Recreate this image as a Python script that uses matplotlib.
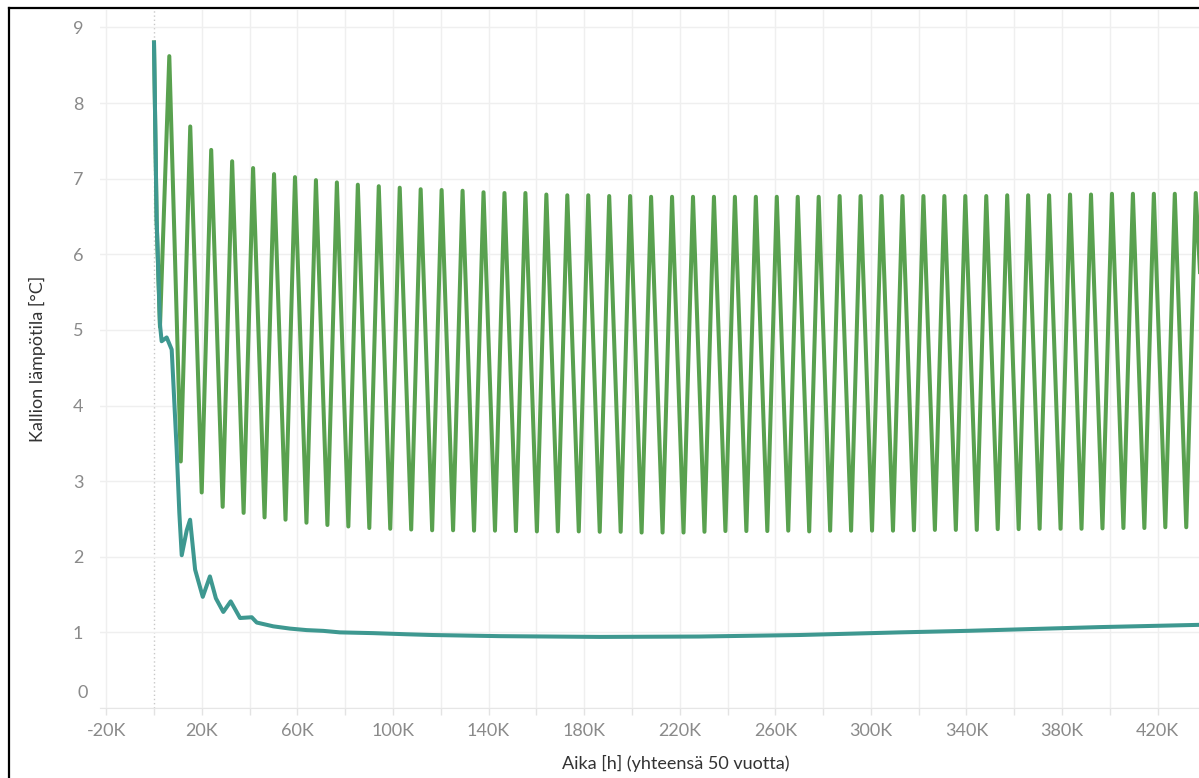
import numpy as np
import matplotlib
matplotlib.use("Agg")
import matplotlib.pyplot as plt
from matplotlib.ticker import FuncFormatter, MultipleLocator
from matplotlib.transforms import ScaledTranslation

plt.rcParams['font.family'] = ['Lato', 'DejaVu Sans']

# green series: start of run, then yearly peaks / troughs
green_start_h = [0, 1100, 2500]
green_start_t = [8.80, 6.45, 5.04]

peak_t = [8.62, 7.69, 7.38, 7.23, 7.14, 7.06, 7.02, 6.98, 6.95, 6.92,
          6.90, 6.88, 6.86, 6.85, 6.84, 6.82, 6.81, 6.81, 6.79, 6.78,
          6.78, 6.77, 6.77, 6.76, 6.76, 6.76, 6.76, 6.76, 6.76, 6.76,
          6.76, 6.76, 6.77, 6.77, 6.77, 6.77, 6.77, 6.77, 6.77, 6.77,
          6.78, 6.78, 6.78, 6.79, 6.79, 6.80, 6.80, 6.80, 6.80, 6.81]
trough_t = [3.26, 2.85, 2.66, 2.58, 2.52, 2.49, 2.45, 2.42, 2.40, 2.38,
            2.37, 2.36, 2.35, 2.35, 2.345, 2.345, 2.34, 2.335, 2.335, 2.335,
            2.33, 2.33, 2.32, 2.32, 2.32, 2.33, 2.34, 2.34, 2.34, 2.345,
            2.335, 2.345, 2.345, 2.345, 2.345, 2.35, 2.355, 2.355, 2.355, 2.365,
            2.365, 2.37, 2.37, 2.37, 2.375, 2.38, 2.38, 2.39, 2.39]
green_end_h = [438000]
green_end_t = [5.6]

# teal series (hours, temperature)
teal_h = [0, 1100, 2500, 3200, 5300, 7400, 8100, 9500, 10600, 11600,
          13700, 15100, 17200, 20400, 23400, 25900, 29000, 32100, 36000, 40900,
          43000, 49900, 56900, 63900, 70800, 77800, 91800, 105700, 116700, 145000,
          186600, 228000, 270000, 312000, 340000, 368000, 396000, 424000, 438000]
teal_t = [8.80, 6.45, 5.07, 4.85, 4.90, 4.74, 4.30, 3.41, 2.58, 2.02,
          2.35, 2.49, 1.83, 1.47, 1.74, 1.45, 1.27, 1.41, 1.19, 1.20,
          1.13, 1.08, 1.05, 1.03, 1.02, 1.00, 0.99, 0.975, 0.965, 0.95,
          0.94, 0.945, 0.965, 1.00, 1.02, 1.045, 1.07, 1.09, 1.10]

year_h = 8766
peak_h = 6400 + np.arange(len(peak_t)) * year_h
trough_h = 11200 + np.arange(len(trough_t)) * year_h

gx = list(green_start_h)
gy = list(green_start_t)
for i in range(len(peak_t)):
    gx.append(peak_h[i]); gy.append(peak_t[i])
    if i < len(trough_t):
        gx.append(trough_h[i]); gy.append(trough_t[i])
gx += green_end_h
gy += green_end_t

fig = plt.figure(figsize=(11.99, 7.78), dpi=100)
ax = fig.add_axes([100 / 1199, 1 - 708 / 778, 1 - 100 / 1199, (708 - 10) / 778])

ax.plot(gx, gy, color='#59a14f', lw=2.9, solid_joinstyle='round', zorder=3)
ax.plot(teal_h, teal_t, color='#3e9890', lw=2.9, solid_joinstyle='round', zorder=4)

ax.axvline(0, color='#c8c8c8', lw=1, ls=(0, (1, 2)), zorder=1)

ax.set_xlim(-22600, 437300)
ax.set_ylim(0, 9.23)

ax.xaxis.set_major_locator(MultipleLocator(20000))
ax.yaxis.set_major_locator(MultipleLocator(1))


def xfmt(v, pos):
    k = int(round(v / 1000))
    if k % 40 == 20 or k % 40 == -20:
        return f"{k}K"
    return ""


def yfmt(v, pos):
    if abs(v) < 1e-9:
        return ""
    return f"{v:.0f}"


ax.xaxis.set_major_formatter(FuncFormatter(xfmt))
ax.yaxis.set_major_formatter(FuncFormatter(yfmt))
ax.grid(True, color='#efefef', lw=1, zorder=0)
for gl, v in zip(ax.get_xgridlines(), ax.get_xticks()):
    if abs(v) < 1:
        gl.set_visible(False)

for s in ['top', 'right', 'left']:
    ax.spines[s].set_visible(False)
ax.spines['bottom'].set_color('#e6e6e6')
ax.tick_params(axis='x', colors='#e3e3e3', length=5, width=1, labelcolor='#8a8a8a',
               labelsize=13, pad=6)
ax.tick_params(axis='y', length=0, labelcolor='#8a8a8a', labelsize=13, pad=12)

# Tableau nudges the bottom label up inside the pane
ax.text(-12 / 1099, 0, '0', transform=ax.get_yaxis_transform()
        + ScaledTranslation(0, 15 / 100, fig.dpi_scale_trans),
        ha='right', va='center', fontsize=13, color='#8a8a8a', clip_on=False)

fig.text(37 / 1199, 1 - 359 / 778, 'Kallion lämpötila [°C]', rotation=90,
         ha='center', va='center', fontsize=13, color='#333333')
fig.text(676 / 1199, 1 - 763 / 778, 'Aika [h] (yhteensä 50 vuotta)',
         ha='center', va='center', fontsize=13, color='#333333')

# screenshot frame
fig.add_artist(plt.Line2D([9 / 1199, 1], [1 - 8 / 778, 1 - 8 / 778],
                          transform=fig.transFigure, color='black', lw=1.6))
fig.add_artist(plt.Line2D([9 / 1199, 9 / 1199], [0, 1 - 8 / 778],
                          transform=fig.transFigure, color='black', lw=1.6))

fig.savefig('out.png', dpi=100)
